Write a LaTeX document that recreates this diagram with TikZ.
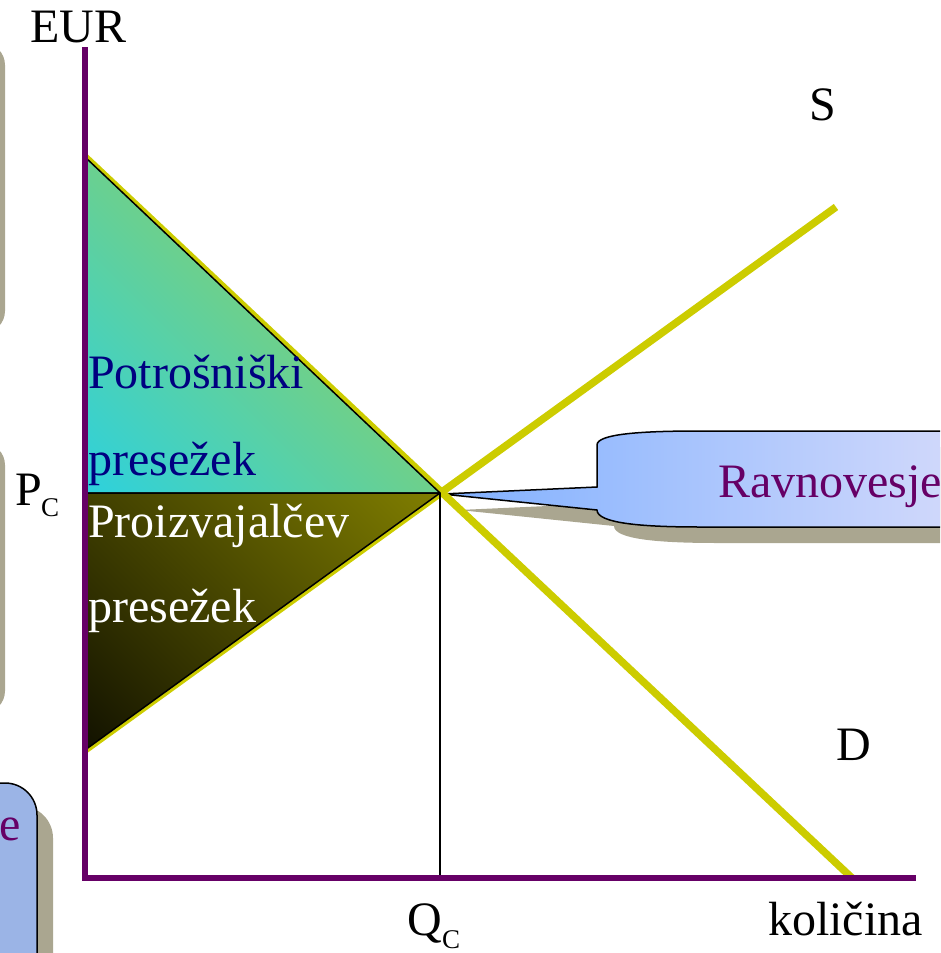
\documentclass[tikz,border=0pt]{standalone}
\usepackage{fontspec}
\setmainfont{Liberation Serif}
\definecolor{axispurple}{RGB}{102,0,102}
\definecolor{curveyellow}{RGB}{204,204,0}
\definecolor{shadowgrey}{RGB}{170,166,144}
\definecolor{csA}{RGB}{24,210,248}
\definecolor{csB}{RGB}{112,208,136}
\definecolor{psA}{RGB}{0,0,0}
\definecolor{psB}{RGB}{128,126,0}
\definecolor{coA}{RGB}{128,176,255}
\definecolor{coB}{RGB}{232,228,250}
\definecolor{txtnavy}{RGB}{0,0,128}
\definecolor{txtpurple}{RGB}{102,0,102}
\definecolor{boxblue}{RGB}{155,180,230}
\pgfdeclareverticalshading{csshade}{100bp}{color(0bp)=(csA); color(3bp)=(csA); color(52bp)=(csB); color(100bp)=(csB)}
\pgfdeclareverticalshading{psshade}{100bp}{color(0bp)=(psA); color(3bp)=(psA); color(85bp)=(psB); color(100bp)=(psB)}
\begin{document}
\begin{tikzpicture}[x=1pt,y=-1pt,
  axisline/.style={draw=axispurple,line width=6pt,line join=miter},
  curveline/.style={draw=curveyellow,line width=7.5pt},
  thinline/.style={draw=black,line width=1.5pt},
  lbl/.style={font=\fontsize{48}{52}\selectfont,inner sep=0pt,anchor=base west},
  sublbl/.style={font=\fontsize{27}{30}\selectfont,inner sep=0pt,anchor=base west},
]
\useasboundingbox (0,0) rectangle (940,953);
\clip (0,0) rectangle (940,953);

% coordinates
\coordinate (Ytop) at (85,47);
\coordinate (O) at (85,878);
\coordinate (Xend) at (916,878);
\coordinate (Dtop) at (85,157);
\coordinate (Dend) at (852,878);
\coordinate (Slow) at (85,750);
\coordinate (Send) at (836,207);
\coordinate (E) at (440,493);
\coordinate (Pc) at (85,493);
\coordinate (Qc) at (440,878);

% left partial callouts (off-canvas)
\fill[shadowgrey,rounded corners=22pt] (-120,43) rectangle (5,333);
\fill[shadowgrey,rounded corners=22pt] (-120,443) rectangle (5,713);
\fill[shadowgrey,rounded corners=32pt] (-120,806) rectangle (53,1100);
\filldraw[fill=boxblue,draw=black,line width=1.5pt,rounded corners=32pt] (-140,783) rectangle (37,1100);
\node[lbl,text=txtpurple] (eLbl) at (-1,840) {e};

% callout shadow
\fill[shadowgrey,shift={(17,16)}]
  (442,494) -- (597,487) -- (597,445) .. controls (597,434) and (640,431) .. (700,431)
  -- (1100,431) -- (1100,527) -- (700,527) .. controls (640,527) and (597,523) .. (597,510) -- cycle;
% callout
\shade[left color=coA,right color=coB,draw=black,line width=1.5pt]
  (442,494) -- (597,487) -- (597,445) .. controls (597,434) and (640,431) .. (700,431)
  -- (1100,431) -- (1100,527) -- (700,527) .. controls (640,527) and (597,523) .. (597,510) -- cycle;
\node[lbl,text=txtpurple] (ravn) at (718,497) {Ravnovesje};

% curves
\draw[curveline] (Dtop) -- (Dend);
\draw[curveline] (Slow) -- (Send);

% surplus triangles
\shade[shading=csshade,shading angle=-45] (Dtop) -- (E) -- (Pc) -- cycle;
\shade[shading=psshade,shading angle=-45] (Pc) -- (E) -- (Slow) -- cycle;
\draw[thinline,line join=round] (Dtop) -- (E) -- (Pc) -- cycle;
\draw[thinline,line join=round] (Pc) -- (E) -- (Slow);

% Q_C drop line
\draw[thinline] (E) -- (Qc);

% axes
\draw[axisline] (Ytop) -- (O) -- (Xend);

% labels
\node[lbl] (eur) at (30,42) {EUR};
\node[lbl] (sLbl) at (809,120) {S};
\node[lbl] (dLbl) at (836,760) {D};
\node[lbl] (pLbl) at (15,505) {P};
\node[sublbl] (pSub) at (41,516) {C};
\node[lbl] (qLbl) at (407,935) {Q};
\node[sublbl] (qSub) at (442,948) {C};
\node[lbl] (kol) at (768,935) {količina};
\node[lbl,text=txtnavy] (cs1) at (88,388) {Potrošniški};
\node[lbl,text=txtnavy] (cs2) at (88,475) {presežek};
\node[lbl,text=white] (ps1) at (88,537) {Proizvajalčev};
\node[lbl,text=white] (ps2) at (88,622) {presežek};
\end{tikzpicture}
\end{document}
